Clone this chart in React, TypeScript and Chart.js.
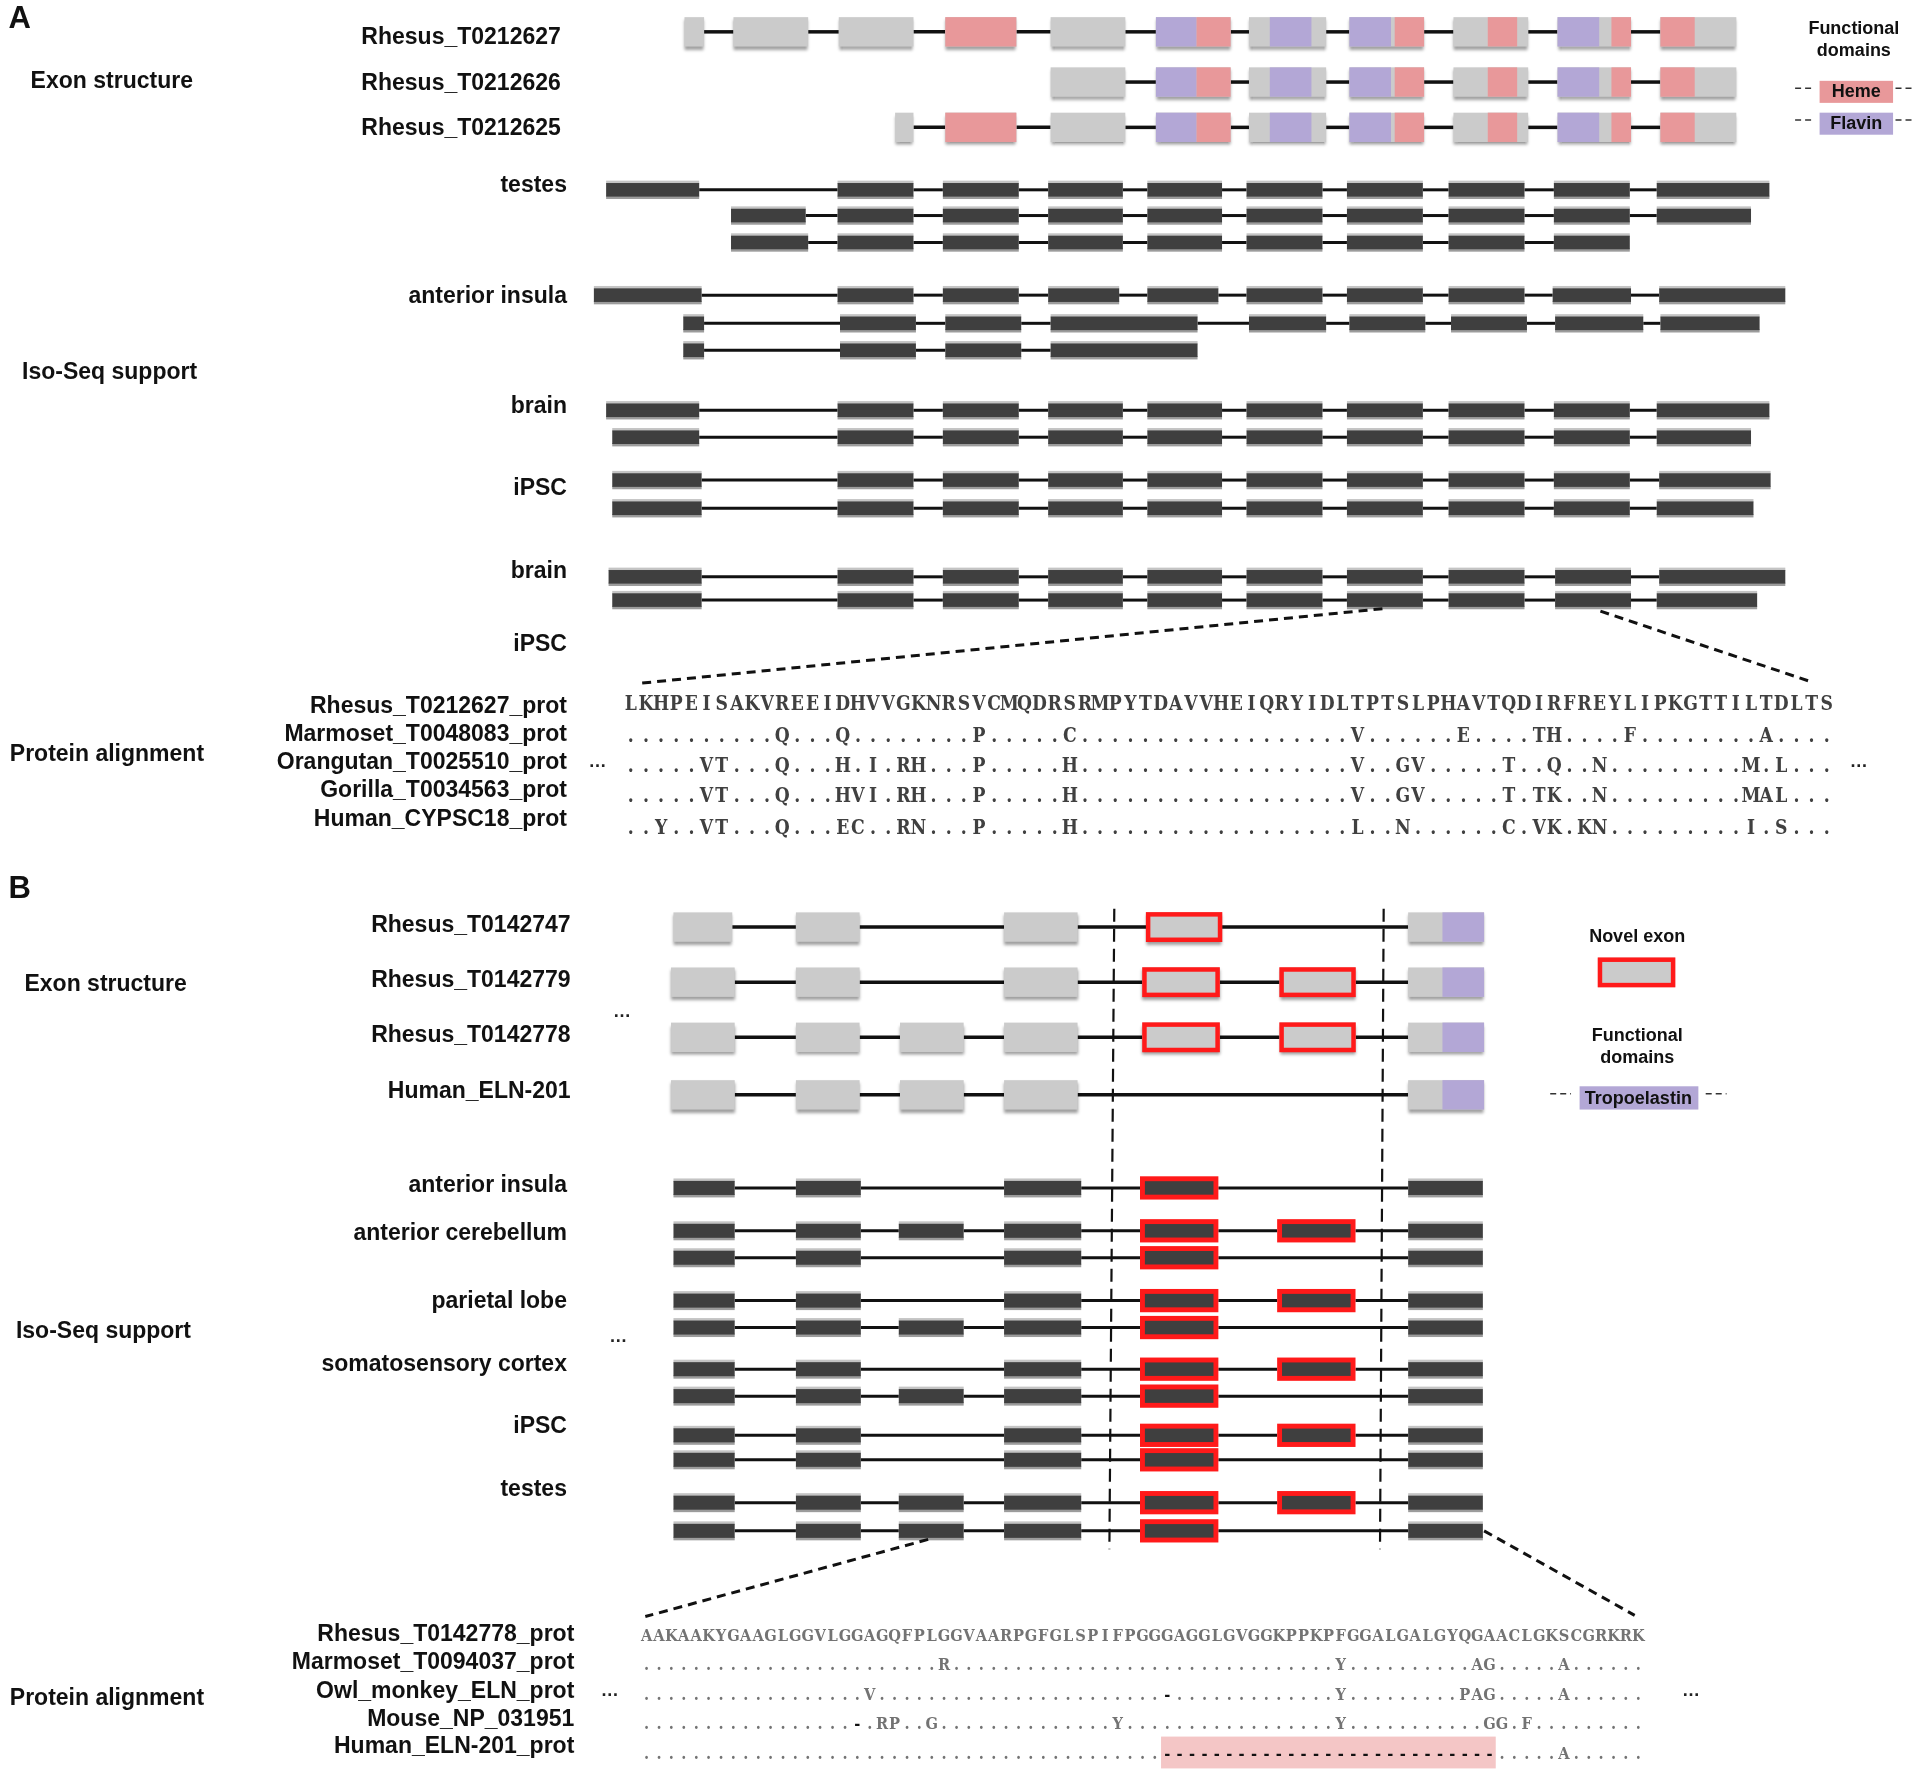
import React, { useEffect, useRef } from "react";
import { Chart, registerables } from "chart.js";

Chart.register(...registerables);

// Figure layout space (units along the gene / rows); mapped to pixels by the chart scales.
const X_RANGE = [0, 1568];
const Y_RANGE = [0, 1451];

// ---------------- Panel A : exon structure ----------------
const A_TRANSCRIPT_NAMES = ["Rhesus_T0212627", "Rhesus_T0212626", "Rhesus_T0212625"];
const A_TRANSCRIPT_Y = [26, 67, 104];
const A_TRANSCRIPT_LABEL_Y = [31, 68, 105];
const A_TRANSCRIPT_EXONS: number[][][] = [
  [[559, 575], [599, 660], [685, 746], [772, 830], [858, 919], [944, 1005], [1020, 1083], [1102, 1163], [1187, 1248], [1272, 1332], [1356, 1418]],
  [[858, 919], [944, 1005], [1020, 1083], [1102, 1163], [1187, 1248], [1272, 1332], [1356, 1418]],
  [[731, 746], [772, 830], [858, 919], [944, 1005], [1020, 1083], [1102, 1163], [1187, 1248], [1272, 1332], [1356, 1418]],
];
const A_HEME = [[772, 830], [977, 1005], [1139, 1163], [1215, 1239], [1316, 1332], [1356, 1384]];
const A_FLAVIN = [[944, 977], [1037, 1071], [1102, 1136], [1272, 1306]];

// ---------------- Panel A : Iso-Seq support ----------------
const A_ISO_TISSUES = ["testes", "anterior insula", "brain", "iPSC", "brain", "iPSC"];
const A_ISO_TISSUE_Y = [152, 242, 332, 399, 467, 526];
const A_ISO_ROW_Y = [155, 176, 198, 241, 264, 286, 335, 357, 392, 415, 471, 490];
const A_ISO_EXONS: number[][][] = [
  [[495, 571], [684, 746], [770, 832], [856, 917], [937, 998], [1018, 1080], [1100, 1162], [1183, 1245], [1269, 1331], [1353, 1445]],
  [[597, 658], [684, 746], [770, 832], [856, 917], [937, 998], [1018, 1080], [1100, 1162], [1183, 1245], [1269, 1331], [1353, 1430]],
  [[597, 660], [684, 746], [770, 832], [856, 917], [937, 998], [1018, 1080], [1100, 1162], [1183, 1245], [1269, 1331]],
  [[485, 573], [684, 746], [770, 832], [856, 914], [937, 995], [1018, 1080], [1100, 1162], [1183, 1245], [1268, 1332], [1355, 1458]],
  [[558, 575], [686, 748], [772, 834], [858, 978], [1020, 1083], [1102, 1164], [1185, 1247], [1270, 1342], [1356, 1437]],
  [[558, 575], [686, 748], [772, 834], [858, 978]],
  [[495, 571], [684, 746], [770, 832], [856, 917], [937, 998], [1018, 1080], [1100, 1162], [1183, 1245], [1269, 1331], [1353, 1445]],
  [[500, 571], [684, 746], [770, 832], [856, 917], [937, 998], [1018, 1080], [1100, 1162], [1183, 1245], [1269, 1331], [1353, 1430]],
  [[500, 573], [684, 746], [770, 832], [856, 917], [937, 998], [1018, 1080], [1100, 1162], [1183, 1245], [1269, 1331], [1355, 1446]],
  [[500, 573], [684, 746], [770, 832], [856, 917], [937, 998], [1018, 1080], [1100, 1162], [1183, 1245], [1269, 1331], [1353, 1432]],
  [[497, 573], [684, 746], [770, 832], [856, 917], [937, 998], [1018, 1080], [1100, 1162], [1183, 1245], [1270, 1332], [1355, 1458]],
  [[500, 573], [684, 746], [770, 832], [856, 917], [937, 998], [1018, 1080], [1100, 1162], [1183, 1245], [1270, 1332], [1353, 1435]],
];
const A_ZOOM_LINES = [[[1129, 497], [522, 558]], [[1307, 499], [1480, 557]]];

// ---------------- Panel A : protein alignment ----------------
const A_ALIGN_NAMES = ["Rhesus_T0212627_prot", "Marmoset_T0048083_prot", "Orangutan_T0025510_prot", "Gorilla_T0034563_prot", "Human_CYPSC18_prot"];
const A_ALIGN_LABEL_Y = [577, 600, 623, 646, 669];
const A_ALIGN_BASELINE = [580, 606, 630, 655, 681];
const A_ALIGN_SPAN = [509, 1498];
const A_ALIGN_SEQS = [
  "LKHPEISAKVREEIDHVVGKNRSVCMQDRSRMPYTDAVVHEIQRYIDLTPTSLPHAVTQDIRFREYLIPKGTTILTDLTS",
  "..........Q...Q........P.....C..................V......E....TH....F........A....",
  ".....VT...Q...H.I.RH...P.....H..................V..GV.....T..Q..N.........M.L...",
  ".....VT...Q...HVI.RH...P.....H..................V..GV.....T.TK..N.........MAL...",
  "..Y..VT...Q...EC..RN...P.....H..................L..N......C.VK.KN.........I.S...",
];
const A_ELLIPSES = [[488, 622], [1518, 622]];

// ---------------- Panel B : exon structure ----------------
const B_TRANSCRIPT_NAMES = ["Rhesus_T0142747", "Rhesus_T0142779", "Rhesus_T0142778", "Human_ELN-201"];
const B_TRANSCRIPT_Y = [757, 802, 847, 894];
const B_TRANSCRIPT_LABEL_Y = [756, 801, 846, 891];
const B_TRANSCRIPT_EXONS: number[][][] = [
  [[550, 598], [650, 702], [820, 880], [936, 998], [1150, 1212]],
  [[548, 600], [650, 702], [820, 880], [933, 996], [1045, 1107], [1150, 1212]],
  [[548, 600], [650, 702], [735, 787], [820, 880], [933, 996], [1045, 1107], [1150, 1212]],
  [[548, 600], [650, 702], [735, 787], [820, 880], [1150, 1212]],
];
const B_NOVEL_REGIONS = [[925, 1000], [1040, 1110]];
const B_TROPOELASTIN = [[1178, 1212]];
const B_BOUNDARY_LINES = [[[910, 742], [906, 1265]], [[1130, 742], [1127, 1265]]];

// ---------------- Panel B : Iso-Seq support ----------------
const B_ISO_TISSUES = ["anterior insula", "anterior cerebellum", "parietal lobe", "somatosensory cortex", "iPSC", "testes"];
const B_ISO_TISSUE_Y = [968, 1007, 1063, 1114, 1165, 1216];
const B_ISO_ROW_Y = [970, 1005, 1027, 1062, 1084, 1118, 1140, 1172, 1192, 1227, 1250];
const B_ISO_EXONS: number[][][] = [
  [[550, 600], [650, 703], [820, 883], [931, 995], [1150, 1211]],
  [[550, 600], [650, 703], [734, 787], [820, 883], [931, 995], [1043, 1107], [1150, 1211]],
  [[550, 600], [650, 703], [820, 883], [931, 995], [1150, 1211]],
  [[550, 600], [650, 703], [820, 883], [931, 995], [1043, 1107], [1150, 1211]],
  [[550, 600], [650, 703], [734, 787], [820, 883], [931, 995], [1150, 1211]],
  [[550, 600], [650, 703], [820, 883], [931, 995], [1043, 1107], [1150, 1211]],
  [[550, 600], [650, 703], [734, 787], [820, 883], [931, 995], [1150, 1211]],
  [[550, 600], [650, 703], [820, 883], [931, 995], [1043, 1107], [1150, 1211]],
  [[550, 600], [650, 703], [820, 883], [931, 995], [1150, 1211]],
  [[550, 600], [650, 703], [734, 787], [820, 883], [931, 995], [1043, 1107], [1150, 1211]],
  [[550, 600], [650, 703], [734, 787], [820, 883], [931, 995], [1150, 1211]],
];
const B_ZOOM_LINES = [[[758, 1257], [527, 1320]], [[1212, 1250], [1335, 1319]]];

// ---------------- Panel B : protein alignment ----------------
const B_ALIGN_NAMES = ["Rhesus_T0142778_prot", "Marmoset_T0094037_prot", "Owl_monkey_ELN_prot", "Mouse_NP_031951", "Human_ELN-201_prot"];
const B_ALIGN_LABEL_Y = [1335, 1358, 1381, 1404, 1426];
const B_ALIGN_BASELINE = [1340, 1364, 1388, 1412, 1436];
const B_ALIGN_SPAN = [523, 1343];
const B_ALIGN_SEQS = [
  "AAKAAKYGAAGLGGVLGGAGQFPLGGVAARPGFGLSPIFPGGGAGGLGVGGKPPKPFGGALGALGYQGAACLGKSCGRKRK",
  "........................R...............................Y..........AG.....A......",
  "..................V.......................-.............Y.........PAG.....A......",
  ".................-.RP..G..............Y.................Y...........GG.F.........",
  "..........................................---------------------------.....A......",
];
const B_GAP_HIGHLIGHT = { row: 4, from: 42, to: 68 };
const B_ELLIPSES = [[508, 826], [505, 1092], [498, 1381], [1381, 1381]];

// ---------------- section labels ----------------
const SECTION_LABELS: [string, number, number][] = [
  ["Exon structure", 25, 67],
  ["Iso-Seq support", 18, 304],
  ["Protein alignment", 8, 616],
  ["Exon structure", 20, 804],
  ["Iso-Seq support", 13, 1087],
  ["Protein alignment", 8, 1387],
];
const PANEL_LETTERS: [string, number, number][] = [["A", 7, 16], ["B", 7, 726]];

const COLORS = {
  exon: "#cbcbcb",
  exonShadow: "rgba(0,0,0,0.38)",
  heme: "#e8989a",
  flavin: "#b3a7d6",
  isoCore: "#3f3f3f",
  isoTop: "#c4c4c4",
  isoBottom: "#9c9c9c",
  novel: "#ff1a1a",
  intron: "#111111",
  text: "#111111",
  seqA: "#404040",
  seqB: "#737373",
  gapFill: "#f4c6c6",
};
const SANS = '"Liberation Sans", Arial, Helvetica, sans-serif';
const SEQ_FONT = '"DejaVu Serif", "Liberation Serif", serif';

const FIG_W = 1920;
const FIG_H = 1777;

function drawFigure(chart: any) {
  const ctx: CanvasRenderingContext2D = chart.ctx;
  const xs = chart.scales.x;
  const ys = chart.scales.y;
  const sx = (v: number) => xs.getPixelForValue(v);
  const sy = (v: number) => ys.getPixelForValue(v);
  const hy = (v: number) => Math.abs(sy(v) - sy(0));

  const label = (s: string, x: number, y: number, size: number, align: CanvasTextAlign, weight = "bold", color = COLORS.text) => {
    ctx.font = `${weight} ${size}px ${SANS}`;
    ctx.fillStyle = color;
    ctx.textAlign = align;
    ctx.textBaseline = "middle";
    ctx.fillText(s, sx(x), sy(y));
  };

  const introns = (exons: number[][], y: number, width: number) => {
    ctx.save();
    ctx.strokeStyle = COLORS.intron;
    ctx.lineWidth = width;
    for (let i = 0; i + 1 < exons.length; i++) {
      ctx.beginPath();
      ctx.moveTo(sx(exons[i][1]), sy(y));
      ctx.lineTo(sx(exons[i + 1][0]), sy(y));
      ctx.stroke();
    }
    ctx.restore();
  };

  const lightExon = (x0: number, x1: number, y: number, h: number) => {
    ctx.save();
    ctx.shadowColor = COLORS.exonShadow;
    ctx.shadowOffsetY = 3;
    ctx.shadowBlur = 3;
    ctx.fillStyle = COLORS.exon;
    ctx.fillRect(sx(x0), sy(y - h / 2), sx(x1) - sx(x0), hy(h));
    ctx.restore();
  };

  const domains = (x0: number, x1: number, y: number, h: number, segs: number[][], color: string) => {
    ctx.fillStyle = color;
    for (const [a, b] of segs) {
      const s = Math.max(a, x0);
      const e = Math.min(b, x1);
      if (e > s) ctx.fillRect(sx(s), sy(y - h / 2), sx(e) - sx(s), hy(h));
    }
  };

  const isoExon = (x0: number, x1: number, y: number, h: number) => {
    const X = sx(x0);
    const W = sx(x1) - sx(x0);
    const top = sy(y - h / 2);
    const H = hy(h);
    const band = H * 0.13;
    ctx.fillStyle = COLORS.isoTop;
    ctx.fillRect(X, top, W, band + 1);
    ctx.fillStyle = COLORS.isoBottom;
    ctx.fillRect(X, top + H - band - 1, W, band + 1);
    ctx.fillStyle = COLORS.isoCore;
    ctx.fillRect(X, top + band, W, H - 2 * band);
  };

  const novelIsoExon = (x0: number, x1: number, y: number) => {
    const h = 19;
    ctx.fillStyle = COLORS.novel;
    ctx.fillRect(sx(x0), sy(y - h / 2), sx(x1) - sx(x0), hy(h));
    ctx.fillStyle = COLORS.isoCore;
    ctx.fillRect(sx(x0 + 4), sy(y - 5.5), sx(x1 - 4) - sx(x0 + 4), hy(11));
  };

  const isNovel = (e: number[]) => B_NOVEL_REGIONS.some(([a, b]) => e[0] >= a && e[1] <= b);

  const dashedLine = (p: number[][], width: number, dash: number[]) => {
    ctx.save();
    ctx.strokeStyle = "#111";
    ctx.lineWidth = width;
    ctx.setLineDash(dash);
    ctx.beginPath();
    ctx.moveTo(sx(p[0][0]), sy(p[0][1]));
    ctx.lineTo(sx(p[1][0]), sy(p[1][1]));
    ctx.stroke();
    ctx.restore();
  };

  const sequence = (seq: string, span: number[], baseline: number, size: number, weight: string, color: string) => {
    const w = (span[1] - span[0]) / seq.length;
    ctx.textAlign = "center";
    ctx.textBaseline = "alphabetic";
    for (let i = 0; i < seq.length; i++) {
      const ch = seq[i];
      ctx.save();
      ctx.translate(sx(span[0] + (i + 0.5) * w), sy(baseline));
      ctx.scale(0.86, 1);
      ctx.font = `${ch === "-" ? "bold" : weight} ${size}px ${SEQ_FONT}`;
      ctx.fillStyle = ch === "-" ? "#111" : color;
      ctx.fillText(ch, 0, 0);
      ctx.restore();
    }
  };

  const ellipsis = (x: number, y: number, size: number) => label("\u2026", x, y, size, "center", "bold", "#222");

  const legendDashes = (xFrom: number, xTo: number, y: number) => {
    ctx.save();
    ctx.strokeStyle = "#333";
    ctx.lineWidth = 1.5;
    ctx.setLineDash([6, 4]);
    ctx.beginPath();
    ctx.moveTo(sx(xFrom), sy(y));
    ctx.lineTo(sx(xTo), sy(y));
    ctx.stroke();
    ctx.restore();
  };

  // ---- panel letters and section labels
  for (const [s, x, y] of PANEL_LETTERS) label(s, x, y, 31, "left");
  for (const [s, x, y] of SECTION_LABELS) label(s, x, y, 23, "left");

  // ---- Panel A exon structure
  A_TRANSCRIPT_EXONS.forEach((exons, r) => {
    const y = A_TRANSCRIPT_Y[r];
    introns(exons, y, 3.5);
    for (const [a, b] of exons) {
      lightExon(a, b, y, 24);
      domains(a, b, y, 24, A_HEME, COLORS.heme);
      domains(a, b, y, 24, A_FLAVIN, COLORS.flavin);
    }
    label(A_TRANSCRIPT_NAMES[r], 458, A_TRANSCRIPT_LABEL_Y[r], 23, "right");
  });

  // legend A
  label("Functional", 1514, 24, 18, "center");
  label("domains", 1514, 42, 18, "center");
  ctx.fillStyle = COLORS.heme;
  ctx.fillRect(sx(1486), sy(66), sx(1546) - sx(1486), hy(18));
  label("Heme", 1516, 75.5, 18, "center");
  ctx.fillStyle = COLORS.flavin;
  ctx.fillRect(sx(1486), sy(92), sx(1546) - sx(1486), hy(18));
  label("Flavin", 1516, 101.5, 18, "center");
  legendDashes(1466, 1481, 72);
  legendDashes(1548, 1563, 72);
  legendDashes(1466, 1481, 98);
  legendDashes(1548, 1563, 98);

  // ---- Panel A Iso-Seq
  A_ISO_TISSUES.forEach((t, i) => label(t, 463, A_ISO_TISSUE_Y[i], 23, "right"));
  A_ISO_EXONS.forEach((exons, r) => {
    const y = A_ISO_ROW_Y[r];
    introns(exons, y, 3);
    for (const [a, b] of exons) isoExon(a, b, y, 15);
  });
  for (const l of A_ZOOM_LINES) dashedLine(l, 3, [9, 6]);

  // ---- Panel A alignment
  A_ALIGN_NAMES.forEach((n, i) => label(n, 463, A_ALIGN_LABEL_Y[i], 23, "right"));
  A_ALIGN_SEQS.forEach((s, i) => sequence(s, A_ALIGN_SPAN, A_ALIGN_BASELINE[i], 20, "bold", COLORS.seqA));
  for (const [x, y] of A_ELLIPSES) ellipsis(x, y, 18);

  // ---- Panel B boundaries (behind exons)
  for (const l of B_BOUNDARY_LINES) dashedLine(l, 2.2, [13, 7]);

  // ---- Panel B exon structure
  B_TRANSCRIPT_EXONS.forEach((exons, r) => {
    const y = B_TRANSCRIPT_Y[r];
    introns(exons, y, 3.5);
    for (const e of exons) {
      lightExon(e[0], e[1], y, 24);
      domains(e[0], e[1], y, 24, B_TROPOELASTIN, COLORS.flavin);
      if (isNovel(e)) {
        ctx.save();
        ctx.strokeStyle = COLORS.novel;
        ctx.lineWidth = 4.5;
        ctx.strokeRect(sx(e[0]) + 2, sy(y - 12) + 2, sx(e[1]) - sx(e[0]) - 4, hy(24) - 4);
        ctx.restore();
      }
    }
    label(B_TRANSCRIPT_NAMES[r], 466, B_TRANSCRIPT_LABEL_Y[r], 23, "right");
  });

  // legend B
  label("Novel exon", 1337, 765, 18, "center");
  ctx.fillStyle = COLORS.exon;
  ctx.fillRect(sx(1305), sy(782), sx(1368) - sx(1305), hy(24));
  ctx.save();
  ctx.strokeStyle = COLORS.novel;
  ctx.lineWidth = 4.5;
  ctx.strokeRect(sx(1305) + 2, sy(782) + 2, sx(1368) - sx(1305) - 4, hy(24) - 4);
  ctx.restore();
  label("Functional", 1337, 846, 18, "center");
  label("domains", 1337, 864, 18, "center");
  ctx.fillStyle = COLORS.flavin;
  ctx.fillRect(sx(1290), sy(887), sx(1387) - sx(1290), hy(19));
  label("Tropoelastin", 1338, 897, 18, "center");
  legendDashes(1266, 1283, 893);
  legendDashes(1393, 1410, 893);

  // ---- Panel B Iso-Seq
  B_ISO_TISSUES.forEach((t, i) => label(t, 463, B_ISO_TISSUE_Y[i], 23, "right"));
  B_ISO_EXONS.forEach((exons, r) => {
    const y = B_ISO_ROW_Y[r];
    introns(exons, y, 3);
    for (const e of exons) {
      if (isNovel(e)) novelIsoExon(e[0], e[1], y);
      else isoExon(e[0], e[1], y, 15.5);
    }
  });
  for (const l of B_ZOOM_LINES) dashedLine(l, 3, [9, 6]);

  // ---- Panel B alignment
  {
    const span = B_ALIGN_SPAN;
    const w = (span[1] - span[0]) / B_ALIGN_SEQS[0].length;
    const g = B_GAP_HIGHLIGHT;
    const base = B_ALIGN_BASELINE[g.row];
    ctx.fillStyle = COLORS.gapFill;
    ctx.fillRect(sx(span[0] + g.from * w), sy(base - 18), sx(span[0] + (g.to + 1) * w) - sx(span[0] + g.from * w), hy(26));
  }
  B_ALIGN_NAMES.forEach((n, i) => label(n, 469, B_ALIGN_LABEL_Y[i], 23, "right"));
  B_ALIGN_SEQS.forEach((s, i) => sequence(s, B_ALIGN_SPAN, B_ALIGN_BASELINE[i], 17, "bold", COLORS.seqB));
  for (const [x, y] of B_ELLIPSES) ellipsis(x, y, 18);
}

export default function App() {
  const canvasRef = useRef<HTMLCanvasElement | null>(null);

  useEffect(() => {
    document.body.style.margin = "0";
    document.body.style.background = "#ffffff";
    const canvas = canvasRef.current;
    if (!canvas) return;
    const figurePlugin = {
      id: "geneFigure",
      beforeDraw(chart: any) {
        const c = chart.ctx;
        c.save();
        c.fillStyle = "#ffffff";
        c.fillRect(0, 0, chart.width, chart.height);
        c.restore();
      },
      afterDraw(chart: any) {
        chart.ctx.save();
        drawFigure(chart);
        chart.ctx.restore();
      },
    };
    const chart = new Chart(canvas, {
      type: "scatter",
      data: { datasets: [{ data: [], pointRadius: 0 }] },
      options: {
        animation: false,
        responsive: false,
        maintainAspectRatio: false,
        devicePixelRatio: 1,
        events: [],
        layout: { padding: 0 },
        plugins: { legend: { display: false }, tooltip: { enabled: false }, title: { display: false } },
        scales: {
          x: { type: "linear", min: X_RANGE[0], max: X_RANGE[1], display: false },
          y: { type: "linear", min: Y_RANGE[0], max: Y_RANGE[1], reverse: true, display: false },
        },
      },
      plugins: [figurePlugin],
    } as any);
    return () => chart.destroy();
  }, []);

  return (
    <canvas
      ref={canvasRef}
      width={FIG_W}
      height={FIG_H}
      style={{ display: "block", width: FIG_W, height: FIG_H }}
    />
  );
}
